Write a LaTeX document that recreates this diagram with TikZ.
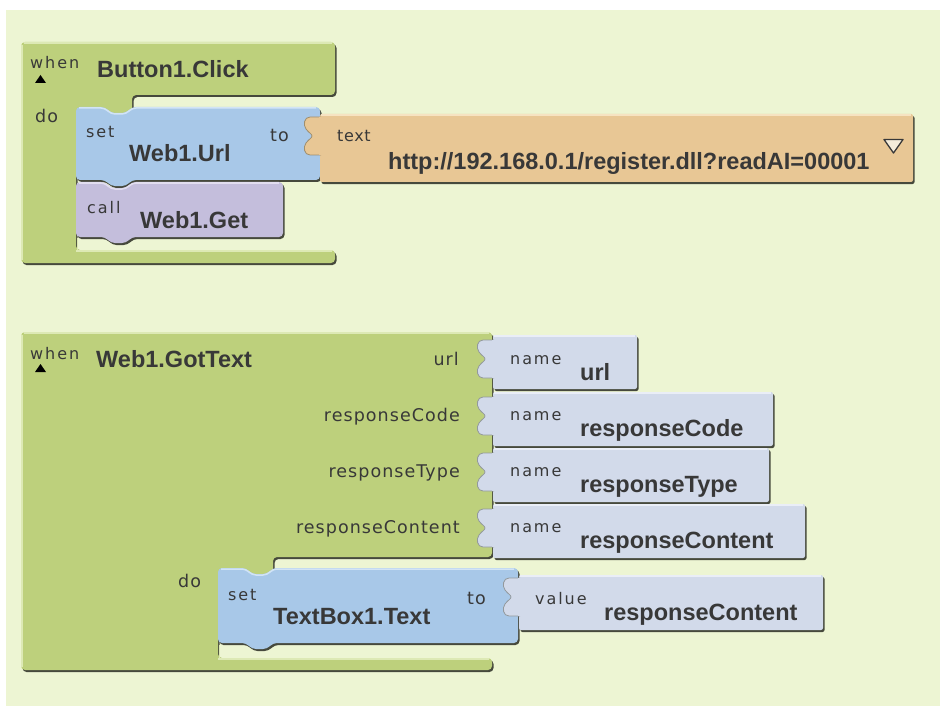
\documentclass[tikz,border=0pt]{standalone}
\usepackage{fontspec}
\newfontfamily\labfont[LetterSpace=12]{DejaVu Sans}
\newfontfamily\labfontb[LetterSpace=4]{DejaVu Sans}
\newfontfamily\midfont[LetterSpace=6]{DejaVu Sans}
\newfontfamily\bigfont{Liberation Sans}
\definecolor{bgc}{HTML}{EDF5D3}
\definecolor{grn}{HTML}{BDD07C}
\definecolor{grnhi}{HTML}{DDE9B5}
\definecolor{bset}{HTML}{A8C8E8}
\definecolor{bsethi}{HTML}{D2E4F6}
\definecolor{pcall}{HTML}{C4BEDC}
\definecolor{pcallhi}{HTML}{E2DEF0}
\definecolor{orng}{HTML}{E8C795}
\definecolor{ornghi}{HTML}{F6E3C2}
\definecolor{nameb}{HTML}{D2DAEA}
\definecolor{namebhi}{HTML}{EAEEF7}
\definecolor{shadowc}{HTML}{46493C}
\definecolor{txt}{HTML}{383838}
\definecolor{tri}{HTML}{F4ECDA}

\newcommand{\stmtblock}[6]{%
 \fill[shadowc,rounded corners=4pt,shift={(1.5,2)}] (#1,#2) -- (#5,#2) -- ++(6,6) -- ++(15,0) -- ++(6,-6) -- (#3,#2) -- (#3,#4) -- ({#5+27},#4) -- ++(-6,6) -- ++(-15,0) -- ++(-6,-6) -- (#1,#4) -- cycle;
 \fill[#6,rounded corners=4pt] (#1,#2) -- (#5,#2) -- ++(6,6) -- ++(15,0) -- ++(6,-6) -- (#3,#2) -- (#3,#4) -- ({#5+27},#4) -- ++(-6,6) -- ++(-15,0) -- ++(-6,-6) -- (#1,#4) -- cycle;
 \draw[#6hi,line width=1.5pt,rounded corners=4pt] ({#1+3},{#2+1}) -- (#5,{#2+1}) -- ++(6,6) -- ++(15,0) -- ++(6,-6) -- ({#3-4},{#2+1});
}
\newcommand{\plugshape}[3]{%
 \begin{scope}[shift={(#1,#2)}]
 \fill[#3,draw=shadowc!45!#3,line width=0.8pt] (1,0) -- (-10,0) .. controls (-16,0) and (-17,8) .. (-14,12) .. controls (-11,16) and (-8,17) .. (-8,19) .. controls (-8,21) and (-11,22) .. (-14,26) .. controls (-17,30) and (-16,38) .. (-10,38) -- (1,38);
 \fill[#3] (-1,-0.4) rectangle (2,38.4);
 \end{scope}
}
\newcommand{\valblock}[6]{%
 \fill[shadowc,rounded corners=2pt,shift={(1.5,2)}] (#1,#2) rectangle (#3,#4);
 \fill[#5,rounded corners=2pt] (#1,#2) rectangle (#3,#4);
 \plugshape{#1}{{#2+#6}}{#5}
 \draw[#5hi,line width=1.5pt] ({#1+1},{#2+1}) -- ({#3-2},{#2+1});
}

\tikzset{
 lab/.style={inner sep=0pt, anchor=base west, text=txt, font=\labfont\fontsize{16}{19}\selectfont},
 labt/.style={inner sep=0pt, anchor=base west, text=txt, font=\labfontb\fontsize{16}{19}\selectfont},
 midl/.style={inner sep=0pt, anchor=base west, text=txt, font=\midfont\fontsize{17.5}{20}\selectfont},
 midR/.style={midl, anchor=base east},
 big/.style={inner sep=0pt, anchor=base west, text=txt, font=\bigfont\bfseries\fontsize{23.5}{28}\selectfont},
}

\begin{document}
\begin{tikzpicture}[x=1pt,y=-1pt]
\useasboundingbox (0,0) rectangle (940,706);
\fill[white] (0,0) rectangle (940,706);
\fill[bgc] (6,10) rectangle (940,706);

% ---------- Block 1 ----------
\fill[shadowc,rounded corners=4pt,shift={(1.5,2)}] (21,42) -- (335,42) -- (335,95) -- (132,95) -- (132,114) -- (76,114) -- (76,250) -- (335,250) -- (335,263) -- (21,263) -- cycle;
\fill[grn,rounded corners=4pt] (21,42) -- (335,42) -- (335,95) -- (132,95) -- (132,114) -- (76,114) -- (76,250) -- (335,250) -- (335,263) -- (21,263) -- cycle;
\draw[grnhi,line width=1.5pt] (24,43) -- (332,43);
\draw[grnhi,line width=1.5pt] (22,45) -- (22,260);
\draw[grnhi,line width=1.5pt] (76,251) -- (332,251);
\draw[grnhi,line width=1.5pt] (77.5,238) -- (77.5,251);

\stmtblock{76}{107}{320}{180}{105}{bset}
\stmtblock{76}{182}{283}{237}{105}{pcall}
\valblock{320}{114}{913}{182}{orng}{3}
\draw[fill=tri,draw=txt,line width=1.3pt,line join=round] (884,139.5) -- (903,139.5) -- (893.5,153) -- cycle;

\fill[black] (35,83) -- (46,83) -- (40.5,75) -- cycle;
\node[lab] (w1) at (30,69) {when};
\node[big] (b1) at (97,78) {Button1.Click};
\node[midl] (do1) at (35,123) {do};
\node[lab] (set1) at (86,138) {set};
\node[big] (wurl) at (129,162) {Web1.Url};
\node[midR] (to1) at (289,142) {to};
\node[labt] (txt1) at (337,142) {text};
\node[big] (url1) at (388,169) {http://192.168.0.1/register.dll?readAI=00001};
\node[lab] (call1) at (87,213) {call};
\node[big] (wget) at (140,228) {Web1.Get};

% ---------- Block 2 ----------
\fill[shadowc,rounded corners=4pt,shift={(1.5,2)}] (21,332) -- (492,332) -- (492,557) -- (273,557) -- (273,576) -- (218,576) -- (218,658) -- (492,658) -- (492,670) -- (21,670) -- cycle;
\fill[grn,rounded corners=4pt] (21,332) -- (492,332) -- (492,557) -- (273,557) -- (273,576) -- (218,576) -- (218,658) -- (492,658) -- (492,670) -- (21,670) -- cycle;
\draw[grnhi,line width=1.5pt] (24,333) -- (489,333);
\draw[grnhi,line width=1.5pt] (22,335) -- (22,667);
\draw[grnhi,line width=1.5pt] (218,659) -- (489,659);
\draw[grnhi,line width=1.5pt] (219.5,645) -- (219.5,659);

\valblock{493}{335}{637}{389}{nameb}{5}
\valblock{493}{392}{773}{446}{nameb}{5}
\valblock{493}{448}{769}{502}{nameb}{5}
\valblock{493}{504}{805}{558}{nameb}{5}

\stmtblock{218}{568}{518}{643}{246}{bset}
\valblock{519}{575}{823}{630}{nameb}{3}

\fill[black] (35,372) -- (46,372) -- (40.5,364) -- cycle;
\node[lab] (w2) at (30,359) {when};
\node[big] (b2) at (96,367) {Web1.GotText};
\node[midR] (p1) at (459,365) {url};
\node[midR] (p2) at (460,421) {responseCode};
\node[midR] (p3) at (460,477) {responseType};
\node[midR] (p4) at (460,533) {responseContent};

\node[lab] (n1) at (510,364) {name};
\node[lab] (n2) at (510,420) {name};
\node[lab] (n3) at (510,476) {name};
\node[lab] (n4) at (510,532) {name};
\node[big] (v1) at (580,380) {url};
\node[big] (v2) at (580,436) {responseCode};
\node[big] (v3) at (580,492) {responseType};
\node[big] (v4) at (580,548) {responseContent};

\node[midl] (do2) at (178,587) {do};
\node[lab] (set2) at (228,600) {set};
\node[big] (tb) at (273,624) {TextBox1.Text};
\node[midR] (to2) at (486,604) {to};
\node[lab] (val) at (535,604) {value};
\node[big] (rc) at (604,620) {responseContent};
\end{tikzpicture}
\end{document}
